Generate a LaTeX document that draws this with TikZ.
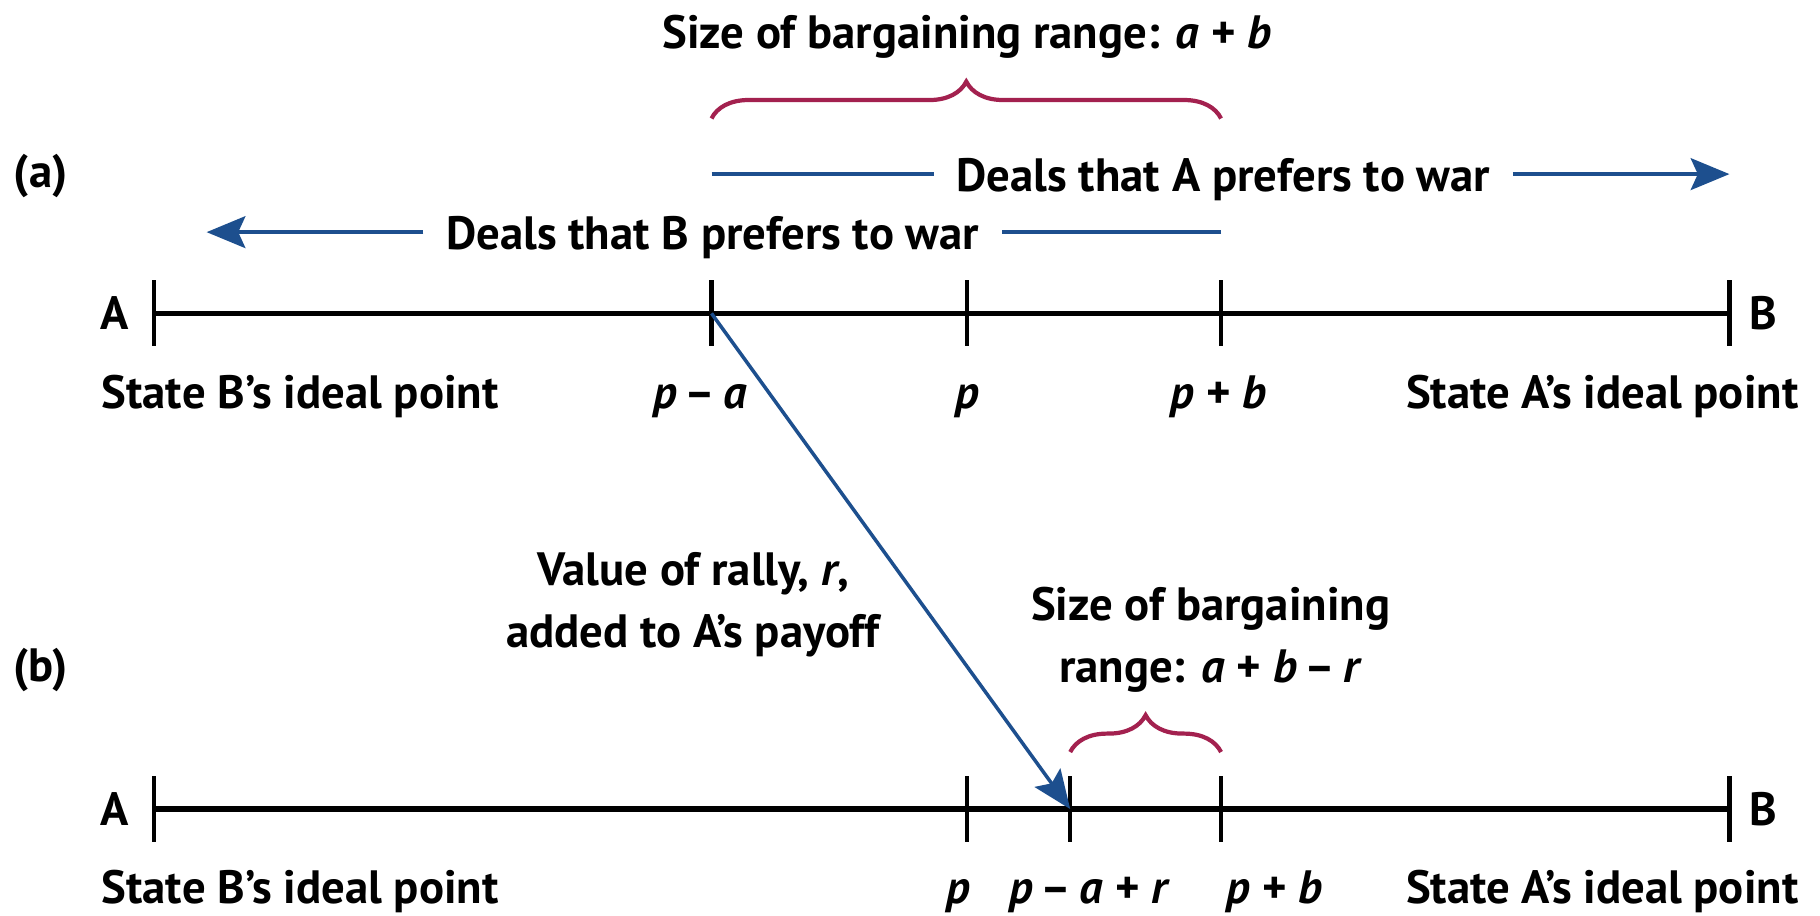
\documentclass[tikz,border=0pt]{standalone}
\usepackage{fontspec}
\setmainfont{PT Sans}
\usetikzlibrary{arrows.meta, positioning, decorations.pathreplacing}
\definecolor{dealblue}{HTML}{1D4F8E}
\definecolor{rangered}{HTML}{A3214F}
\newcommand{\mvar}[1]{\textit{#1}}

\begin{document}
\begin{tikzpicture}[x=0.011607cm, y=-0.011607cm,
    lbl/.style={font=\bfseries\fontsize{13.3}{17.5}\selectfont, inner sep=0pt, align=center},
    dealtext/.style={lbl, inner xsep=0.22cm, anchor=base},
    axis/.style={line width=1.6pt},
    tick/.style={line width=1.2pt},
    deal/.style={draw=dealblue, line width=1.3pt},
    rally/.style={draw=dealblue, line width=1pt},
    rangebrace/.style={draw=rangered, line width=1.2pt, decorate,
      decoration={brace, amplitude=10.5pt}},
    >={Stealth[length=11pt, width=9pt, inset=2pt]}
  ]
  \useasboundingbox (0,0) rectangle (1568,789);

  % panel (a)
  \node[lbl] (panelA) at (35,152) {(a)};
  \coordinate (aA) at (133,270);
  \coordinate (aL) at (613,270);
  \coordinate (aP) at (833,270);
  \coordinate (aR) at (1052,270);
  \coordinate (aB) at (1490,270);
  \draw[axis] (aA) -- (aB);
  \foreach \t in {aA,aL,aP,aR,aB}
    \draw[tick] ([yshift=0.33cm]\t) -- ([yshift=-0.33cm]\t);
  \node[lbl, left=0.25cm of aA] (endA) {A};
  \node[lbl, right=0.19cm of aB] (endB) {B};
  \node[lbl, anchor=base west] (idealB) at (87,352) {State B’s ideal point};
  \node[lbl, anchor=base east] (idealA) at (1550,352) {State A’s ideal point};
  \node[lbl, anchor=base] (pa) at (603,352) {\mvar{p}\,–\,\mvar{a}};
  \node[lbl, anchor=base] (pp) at (833,352) {\mvar{p}};
  \node[lbl, anchor=base] (pb) at (1050,352) {\mvar{p} + \mvar{b}};

  % deals each side prefers
  \coordinate (dAs) at (613,150);
  \coordinate (dAe) at (1490,150);
  \node[dealtext] (dealsA) at (1054,165) {Deals that A prefers to war};
  \draw[deal] (dAs) -- (dealsA.west |- dAs);
  \draw[deal, ->] (dealsA.east |- dAe) -- (dAe);
  \coordinate (dBs) at (1052,200);
  \coordinate (dBe) at (178,200);
  \node[dealtext] (dealsB) at (614,215) {Deals that B prefers to war};
  \draw[deal] (dBs) -- (dealsB.east |- dBs);
  \draw[deal, ->] (dealsB.west |- dBe) -- (dBe);

  % bargaining range (a)
  \draw[rangebrace] ([yshift=1.95cm]aL) -- ([yshift=1.95cm]aR);
  \node[lbl, anchor=base] (rangeA) at (833,42) {Size of bargaining range: \mvar{a} + \mvar{b}};

  % panel (b)
  \node[lbl] (panelB) at (35,577) {(b)};
  \coordinate (bA) at (133,697);
  \coordinate (bP) at (833,697);
  \coordinate (bM) at (922,697);
  \coordinate (bR) at (1052,697);
  \coordinate (bB) at (1490,697);
  \draw[axis] (bA) -- (bB);
  \foreach \t in {bA,bP,bM,bR,bB}
    \draw[tick] ([yshift=0.33cm]\t) -- ([yshift=-0.33cm]\t);
  \node[lbl, left=0.25cm of bA] (endA2) {A};
  \node[lbl, right=0.19cm of bB] (endB2) {B};
  \node[lbl, anchor=base west] (idealB2) at (87,778) {State B’s ideal point};
  \node[lbl, anchor=base east] (idealA2) at (1550,778) {State A’s ideal point};
  \node[lbl, anchor=base] (pp2) at (826,778) {\mvar{p}};
  \node[lbl, anchor=base] (pm2) at (939,778) {\mvar{p}\,–\,\mvar{a} + \mvar{r}};
  \node[lbl, anchor=base] (pb2) at (1098,778) {\mvar{p} + \mvar{b}};

  % bargaining range (b)
  \draw[rangebrace] ([yshift=0.57cm]bM) -- ([yshift=0.57cm]bR);
  \node[lbl] (rangeB) at (1043,551) {Size of bargaining\\range: \mvar{a} + \mvar{b}\,–\,\mvar{r}};

  % rally effect
  \node[lbl] (rallyText) at (597,521) {Value of rally, \mvar{r},\\added to A’s payoff};
  \draw[rally, ->] (aL) -- (bM);
\end{tikzpicture}
\end{document}
